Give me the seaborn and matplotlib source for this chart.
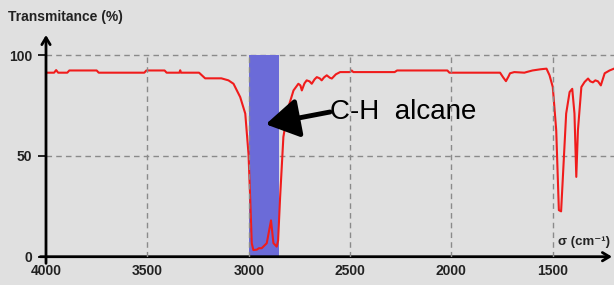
import numpy as np
import pandas as pd
import matplotlib
matplotlib.use("Agg")
import matplotlib.pyplot as plt
import seaborn as sns

# IR spectrum (wavenumber in cm-1, transmittance in %)
wavenumber = [4000, 3960, 3950, 3940, 3895, 3885, 3750, 3740, 3515, 3505, 3415, 3405,
              3342, 3338, 3334, 3245, 3215, 3135, 3100, 3075, 3042, 3017, 3001, 2993,
              2985, 2977, 2960, 2950, 2936, 2911, 2890, 2878, 2862, 2855, 2845, 2829,
              2804, 2779, 2755, 2745, 2738, 2725, 2714, 2700, 2689, 2675, 2664, 2650,
              2640, 2628, 2615, 2600, 2590, 2570, 2549, 2500, 2492, 2484, 2280, 2268,
              2020, 2010, 1760, 1745, 1731, 1718, 1711, 1690, 1640, 1630, 1600, 1560,
              1531, 1516, 1500, 1483, 1470, 1459, 1451, 1434, 1417, 1404, 1393, 1384,
              1376, 1359, 1343, 1326, 1315, 1302, 1290, 1277, 1263, 1244, 1220, 1198]
transmittance = [91.3, 91.3, 92.6, 91.3, 91.3, 92.4, 92.4, 91.3, 91.3, 92.4, 92.4, 91.3,
                 91.3, 92.5, 91.3, 91.3, 88.5, 88.5, 87.5, 85.8, 79.2, 71.0, 51.0, 29.7,
                 6.7, 3.3, 3.5, 4.2, 4.2, 6.7, 18.0, 6.7, 5.0, 8.0, 29.7, 59.4,
                 74.3, 82.5, 85.8, 85.0, 82.5, 86.0, 87.5, 87.0, 85.8, 88.0, 89.1, 88.5,
                 87.5, 89.0, 90.0, 88.8, 88.4, 90.5, 91.6, 91.6, 92.4, 91.6, 91.6, 92.4,
                 92.4, 91.3, 91.3, 89.0, 87.1, 89.5, 91.0, 91.6, 91.3, 91.6, 92.4, 93.0,
                 93.3, 90.0, 84.2, 62.7, 23.1, 22.5, 37.9, 71.0, 81.7, 83.3, 71.0, 39.6,
                 62.7, 84.2, 86.7, 88.4, 87.0, 86.5, 87.5, 87.0, 85.0, 91.0, 92.4, 93.3]

x_ticks = [4000, 3500, 3000, 2500, 2000, 1500]
y_ticks = [0, 50, 100]
band = (3000, 2850)
band_label = "C-H  alcane"

df = pd.DataFrame({"sigma": wavenumber, "T": transmittance})

bg = "#e0e0e0"
txt = "#222222"
plt.rcParams['font.family'] = ['Liberation Sans', 'DejaVu Sans']

fig = plt.figure(figsize=(6.14, 2.85), dpi=100, facecolor=bg)
ax = fig.add_axes([46 / 614, 28.3 / 285, 568 / 614, 221.7 / 285])
ax.set_facecolor(bg)

# grid (dashed, stops at 100 %)
for xv in x_ticks[1:]:
    ax.plot([xv, xv], [0, 100], color="#8a8a8a", lw=1, ls=(0, (4, 3)), zorder=4)
for yv in y_ticks[1:]:
    ax.axhline(yv, color="#8a8a8a", lw=1, ls=(0, (4, 3)), zorder=1)

ax.axvspan(band[0], band[1], ymin=0, ymax=100 / 110, color="#6b6bd8", lw=0, zorder=2)

sns.lineplot(data=df, x="sigma", y="T", color="#f01c1c", lw=1.5, estimator=None,
             sort=False, ax=ax, zorder=3)

ax.set_xlim(4000, 1198)
ax.set_ylim(0, 110)
ax.set_xticks(x_ticks)
ax.set_yticks(y_ticks)
ax.set_xlabel("")
ax.set_ylabel("")
for s in ax.spines.values():
    s.set_visible(False)
ax.tick_params(axis="x", length=0, pad=5, labelsize=10, labelcolor=txt)
ax.tick_params(axis="y", length=6, width=1.2, color="black", pad=4, labelsize=10, labelcolor=txt)
for lab in ax.get_xticklabels() + ax.get_yticklabels():
    lab.set_fontweight("bold")

# axes with open arrow heads
ax.annotate("", xy=(0, 1), xytext=(0, -0.03), xycoords="axes fraction",
            arrowprops=dict(arrowstyle="->,head_length=0.5,head_width=0.3", lw=2, color="black",
                            shrinkA=0, shrinkB=0), annotation_clip=False)
ax.annotate("", xy=(0.9965, 0), xytext=(-0.01, 0), xycoords="axes fraction",
            arrowprops=dict(arrowstyle="->,head_length=0.5,head_width=0.3", lw=2, color="black",
                            shrinkA=0, shrinkB=0), annotation_clip=False)

# band label with arrow
ax.text(2599, 71.8, band_label, fontsize=20, color="black", va="center", ha="left", zorder=3)
ax.annotate("", xy=(2916, 65.7), xytext=(2599, 71.8),
            arrowprops=dict(arrowstyle="-|>,head_length=1.0,head_width=0.6", lw=3.5,
                            color="black", mutation_scale=20, shrinkA=0, shrinkB=0), zorder=5)

fig.text(8 / 614, 1 - 17 / 285, "Transmitance (%)", fontsize=10, fontweight="bold",
         color=txt, va="center", ha="left")
ax.text(1475, 7.5, "σ (cm⁻¹)", fontsize=9.5, fontweight="bold", color=txt,
        va="center", ha="left")

fig.savefig("out.png", dpi=100, facecolor=bg)
